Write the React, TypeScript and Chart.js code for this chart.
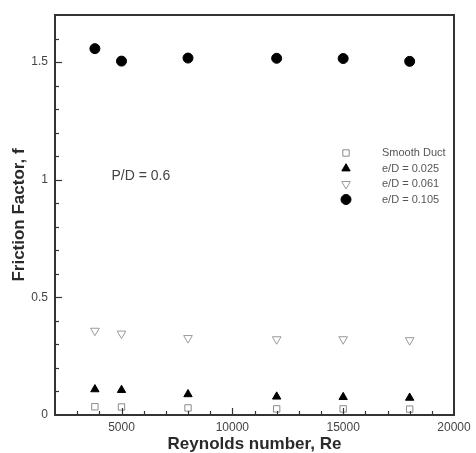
import { useEffect, useRef } from 'react';
import { Chart, registerables } from 'chart.js';

Chart.register(...registerables);

// Reynolds numbers tested
const reynolds = [3800, 5000, 8000, 12000, 15000, 18000];

// Friction factor per configuration
const smoothDuct = [0.035, 0.034, 0.03, 0.026, 0.026, 0.025];
const ed025 = [0.109, 0.106, 0.088, 0.078, 0.076, 0.073];
const ed061 = [0.358, 0.346, 0.327, 0.322, 0.322, 0.318];
const ed105 = [1.557, 1.504, 1.517, 1.516, 1.515, 1.503];

const seriesLabels = ['Smooth Duct', 'e/D = 0.025', 'e/D = 0.061', 'e/D = 0.105'];

// Axis ranges and ticks
const xRange = [2000, 20000];
const yRange = [0, 1.7];
const xMajorTicks = [5000, 10000, 15000, 20000];
const yMajorTicks = [0, 0.5, 1, 1.5];
const xMinorStep = 1000;
const yMinorStep = 0.1;

const xTitle = 'Reynolds number, Re';
const yTitle = 'Friction Factor, f';
const noteText = 'P/D = 0.6';
const notePosition = [4550, 1.015];

type MarkerKind = 'rect' | 'triangle' | 'triangleDown' | 'circle';

const markerStyles: { kind: MarkerKind; radius: number; stroke: string; fill: string }[] = [
  { kind: 'rect', radius: 4.5, stroke: '#8a8a8a', fill: 'rgba(255,255,255,0)' },
  { kind: 'triangle', radius: 4.8, stroke: '#000', fill: '#000' },
  { kind: 'triangleDown', radius: 5, stroke: '#9a9a9a', fill: 'rgba(255,255,255,0)' },
  { kind: 'circle', radius: 5, stroke: '#000', fill: '#000' },
];

function drawMarker(ctx: CanvasRenderingContext2D, kind: MarkerKind, x: number, y: number, r: number, stroke: string, fill: string) {
  ctx.save();
  ctx.beginPath();
  if (kind === 'rect') {
    const s = r * Math.SQRT1_2;
    ctx.rect(x - s, y - s, 2 * s, 2 * s);
  } else if (kind === 'circle') {
    ctx.arc(x, y, r, 0, Math.PI * 2);
  } else {
    const dir = kind === 'triangle' ? 1 : -1;
    const h = r * 1.5;
    const w = r * Math.sqrt(3);
    ctx.moveTo(x, y - dir * (h * 2) / 3);
    ctx.lineTo(x + w / 2, y + dir * h / 3);
    ctx.lineTo(x - w / 2, y + dir * h / 3);
    ctx.closePath();
  }
  ctx.fillStyle = fill;
  ctx.fill();
  ctx.strokeStyle = stroke;
  ctx.lineWidth = 1;
  ctx.stroke();
  ctx.restore();
}

const frameTicksLegend = {
  id: 'frameTicksLegend',
  afterDraw(chart: any) {
    const { ctx, chartArea: a, scales } = chart;
    const xs = scales.x;
    const ys = scales.y;
    ctx.save();

    // inward ticks on the bottom axis
    ctx.strokeStyle = '#333';
    ctx.lineWidth = 1.2;
    const nx = Math.round((xRange[1] - xRange[0]) / xMinorStep);
    for (let i = 1; i < nx; i++) {
      const v = xRange[0] + i * xMinorStep;
      const px = Math.round(xs.getPixelForValue(v)) + 0.5;
      const major = xMajorTicks.includes(v);
      ctx.beginPath();
      ctx.moveTo(px, a.bottom);
      ctx.lineTo(px, a.bottom - (major ? 7 : 4));
      ctx.stroke();
    }
    // inward ticks on the left axis
    const ny = Math.round((yRange[1] - yRange[0]) / yMinorStep);
    for (let i = 1; i < ny; i++) {
      const v = yRange[0] + i * yMinorStep;
      const py = Math.round(ys.getPixelForValue(v)) + 0.5;
      const major = yMajorTicks.some((m) => Math.abs(m - v) < 1e-6);
      ctx.beginPath();
      ctx.moveTo(a.left, py);
      ctx.lineTo(a.left + (major ? 7 : 4), py);
      ctx.stroke();
    }

    // plot frame
    ctx.strokeStyle = '#333';
    ctx.lineWidth = 2;
    ctx.strokeRect(a.left, a.top, a.right - a.left, a.bottom - a.top);

    // note text
    ctx.fillStyle = '#444';
    ctx.font = '14px "Liberation Sans", Arial, sans-serif';
    ctx.textAlign = 'left';
    ctx.textBaseline = 'middle';
    ctx.fillText(noteText, xs.getPixelForValue(notePosition[0]), ys.getPixelForValue(notePosition[1]));

    // legend
    const lx = a.left + 291;
    const tx = a.left + 327;
    const ly0 = a.top + 138;
    const dy = 15.5;
    ctx.font = '11px "Liberation Sans", Arial, sans-serif';
    seriesLabels.forEach((label, i) => {
      const st = markerStyles[i];
      const yy = ly0 + i * dy;
      drawMarker(ctx, st.kind, lx, yy, st.radius, st.stroke, st.fill);
      ctx.fillStyle = '#555';
      ctx.fillText(label, tx, yy);
    });
    ctx.restore();
  },
};

function toPoints(ys: number[]) {
  return reynolds.map((x, i) => ({ x, y: ys[i] }));
}

export default function App() {
  const canvasRef = useRef<HTMLCanvasElement | null>(null);

  useEffect(() => {
    if (!canvasRef.current) return;
    const seriesValues = [smoothDuct, ed025, ed061, ed105];
    const pointStyles = ['rect', 'triangle', 'triangle', 'circle'];
    const chart = new Chart(canvasRef.current, {
      type: 'scatter',
      data: {
        datasets: seriesValues.map((vals, i) => ({
          label: seriesLabels[i],
          data: toPoints(vals),
          pointStyle: pointStyles[i] as any,
          pointRadius: markerStyles[i].radius,
          pointRotation: markerStyles[i].kind === 'triangleDown' ? 180 : 0,
          pointBorderWidth: 1,
          borderColor: markerStyles[i].stroke,
          backgroundColor: markerStyles[i].fill,
          showLine: false,
        })),
      },
      options: {
        animation: false,
        responsive: false,
        maintainAspectRatio: false,
        layout: { padding: { left: 0, top: 15, right: 22, bottom: 0 } },
        plugins: {
          legend: { display: false },
          tooltip: { enabled: false },
        },
        scales: {
          x: {
            type: 'linear',
            min: xRange[0],
            max: xRange[1],
            grid: { display: false, drawTicks: false },
            border: { display: false },
            afterBuildTicks: (scale: any) => {
              scale.ticks = xMajorTicks.map((value) => ({ value }));
            },
            afterFit: (scale: any) => {
              scale.height = 38;
            },
            ticks: {
              padding: 5,
              color: '#444',
              font: { family: '"Liberation Sans", Arial, sans-serif', size: 12 },
              callback: (v: any) => String(v),
            },
            title: {
              display: true,
              text: xTitle,
              color: '#2a2a2a',
              padding: { top: 0, bottom: 0 },
              font: { family: '"Liberation Sans", Arial, sans-serif', size: 17, weight: 'bold', lineHeight: 1 },
            },
          },
          y: {
            type: 'linear',
            min: yRange[0],
            max: yRange[1],
            grid: { display: false, drawTicks: false },
            border: { display: false },
            afterBuildTicks: (scale: any) => {
              scale.ticks = yMajorTicks.map((value) => ({ value }));
            },
            afterFit: (scale: any) => {
              scale.width = 55;
            },
            ticks: {
              padding: 7,
              color: '#444',
              font: { family: '"Liberation Sans", Arial, sans-serif', size: 12 },
              callback: (v: any) => String(v),
            },
            title: {
              display: true,
              text: yTitle,
              color: '#2a2a2a',
              padding: { top: 11, bottom: 0 },
              font: { family: '"Liberation Sans", Arial, sans-serif', size: 17, weight: 'bold', lineHeight: 1 },
            },
          },
        },
      },
      plugins: [frameTicksLegend],
    });
    return () => chart.destroy();
  }, []);

  return (
    <div style={{ position: 'fixed', left: 0, top: 0, width: 476, height: 453, background: '#fff' }}>
      <canvas ref={canvasRef} width={476} height={453} style={{ width: 476, height: 453, display: 'block' }} />
    </div>
  );
}
